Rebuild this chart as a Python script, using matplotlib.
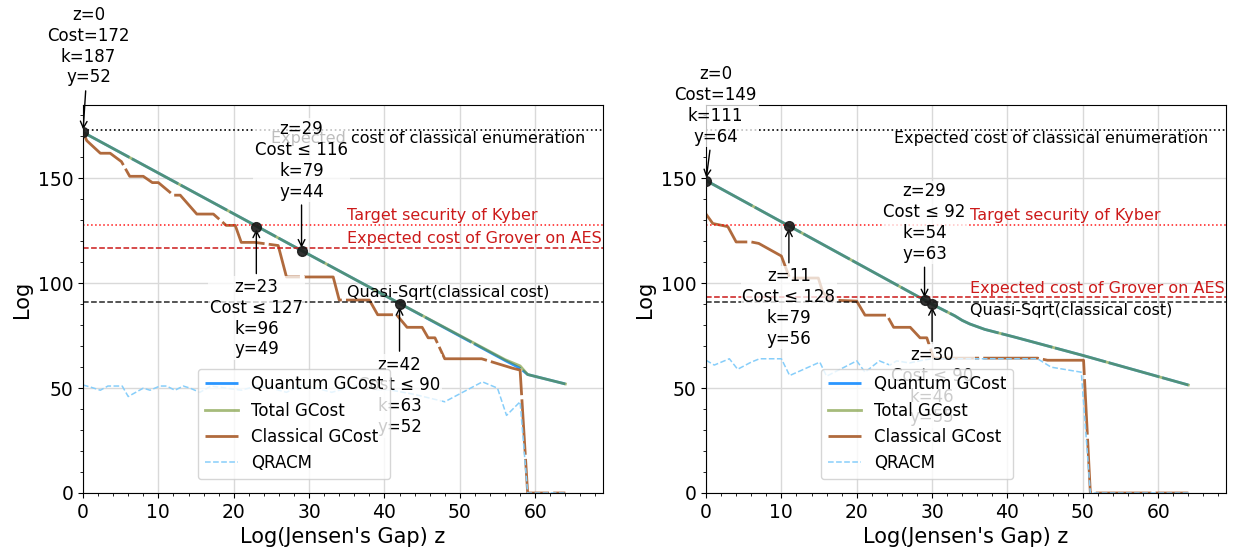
import matplotlib.pyplot as plt
from matplotlib.ticker import MultipleLocator

# ---- left panel data ----
l_q_z = [0, 23, 29, 42, 56, 58, 59, 64]
l_q_c = [172, 127.3, 115.6, 90.4, 63.2, 59.5, 56.5, 52]
l_t_z = [0, 23, 29, 42, 56, 58, 59, 64]
l_t_c = [172, 127.3, 115.6, 90.4, 63.6, 60.6, 56.5, 52]
l_cl_z = [0, 0.5, 2.3, 3.6, 5.1, 6.2, 8, 9.2, 10, 12, 12.9, 15.1, 17.3, 19, 20.2, 21, 22.8,
          25.9, 27, 33.2, 34, 38, 39.1, 41.6, 43, 45, 45.8, 46.7, 48, 52.9, 57, 58, 59, 64]
l_cl_c = [172, 168, 162, 162, 158, 151, 151, 148, 148, 142, 142, 133, 133, 127.6, 127.6, 119.5, 119.5,
          118, 103, 103, 92, 92, 85, 85, 79, 79, 74, 74, 64, 64, 59.5, 58.6, 0, 0]
l_qr_z = [0, 1, 2.3, 3.3, 5.2, 6, 8, 8.9, 10.2, 11.1, 12.2, 13.3, 14.2, 15.5, 17, 19, 21, 23, 25,
          27, 29, 31, 33, 35, 37, 39, 41, 44, 48, 53, 55, 56.2, 58, 59, 64]
l_qr_c = [51.5, 50.5, 49, 51, 51, 46, 50, 49, 51, 51, 49, 51, 50, 48, 51, 50, 49, 51, 50,
          48, 51.5, 50, 48, 50, 52, 49, 49, 47, 43.5, 53, 50, 37, 43.5, 0, 0]
l_lines = {"enum": 173, "kyber": 128, "grover": 117, "sqrt": 91}
l_notes = [(0, 172, "z=0\nCost=172\nk=187\ny=52"),
           (23, 127, "z=23\nCost ≤ 127\nk=96\ny=49"),
           (29, 115.6, "z=29\nCost ≤ 116\nk=79\ny=44"),
           (42, 90, "z=42\nCost ≤ 90\nk=63\ny=52")]

# ---- right panel data ----
r_q_z = [0, 30, 33, 34, 35, 37, 41, 50, 64]
r_q_c = [149, 90, 84.5, 82.3, 80.6, 78, 74.3, 65.6, 51.5]
r_t_z = r_q_z
r_t_c = r_q_c
r_cl_z = [0, 0.9, 2.9, 4, 6, 7, 10, 11.1, 14.9, 15.5, 16.5, 20, 21.1, 24, 24.9, 27.1, 28.4, 29.3,
          30.2, 44, 45.3, 50.1, 51, 64]
r_cl_c = [133, 128.5, 127, 119.7, 119.7, 119, 113, 102.5, 102.5, 95.7, 92, 91.5, 84.8, 84.8, 79, 79, 74, 74,
          64.3, 64.3, 63.3, 63.3, 0, 0]
r_qr_z = [0, 1.1, 3.1, 4.2, 6, 7.1, 10, 11.1, 15.1, 16, 20, 21.1, 23, 24.4, 25.3, 27, 29, 30,
          44, 45.8, 49.8, 51, 64]
r_qr_c = [63.3, 61, 64, 59, 62.4, 64, 64, 56, 62.4, 55.7, 63, 57.6, 63, 61, 63, 62, 63.5, 64,
          64, 60, 57.6, 0, 0]
r_lines = {"enum": 173, "kyber": 128, "grover": 93.3, "sqrt": 91}
r_notes = [(0, 149, "z=0\nCost=149\nk=111\ny=64"),
           (11, 127.5, "z=11\nCost ≤ 128\nk=79\ny=56"),
           (29, 91.9, "z=29\nCost ≤ 92\nk=54\ny=63"),
           (30, 90, "z=30\nCost ≤ 90\nk=46\ny=55")]

# offsets (points) for annotation texts
l_off = [(4, 33, 'bottom'), (0, -37, 'top'), (0, 36, 'bottom'), (0, -37, 'top')]
r_off = [(7, 25, 'bottom'), (0, -30, 'top'), (0, 27, 'bottom'), (0, -30, 'top')]
sqrt_va = ['bottom', 'top']

RED = '#cc1a1a'

fig = plt.figure(figsize=(12.37, 5.56), dpi=100)
ax1 = fig.add_axes([83 / 1237, 63 / 556, 520 / 1237, 388 / 556])
ax2 = fig.add_axes([706 / 1237, 63 / 556, 520 / 1237, 388 / 556])

panels = [
    (ax1, l_q_z, l_q_c, l_t_z, l_t_c, l_cl_z, l_cl_c, l_qr_z, l_qr_c, l_lines, l_notes, l_off),
    (ax2, r_q_z, r_q_c, r_t_z, r_t_c, r_cl_z, r_cl_c, r_qr_z, r_qr_c, r_lines, r_notes, r_off),
]

for i, (ax, qz, qc, tz, tc, cz, cc, rz, rc, hl, notes, offs) in enumerate(panels):
    ax.plot(qz, qc, color='#1e90ff', lw=2, label='Quantum GCost', dashes=(19, 1), alpha=0.95)
    ax.plot(tz, tc, color='olivedrab', lw=2, label='Total GCost', alpha=0.6)
    ax.plot(cz, cc, color='#a85a28', lw=2, label='Classical GCost', dashes=(20, 1.5), alpha=0.9)
    ax.plot(rz, rc, color='#87cefa', lw=1.1, ls='--', label='QRACM')

    ax.axhline(hl["enum"], color='black', ls=':', lw=1.2)
    ax.axhline(hl["kyber"], color='red', ls=':', lw=1.1, alpha=0.9)
    ax.axhline(hl["grover"], color=RED, ls='--', lw=1.1)
    ax.axhline(hl["sqrt"], color='black', ls='--', lw=1.1, alpha=0.85)
    ax.text(25, hl["enum"] - 0.5, "Expected cost of classical enumeration", fontsize=11.5, va='top')
    ax.text(35, hl["kyber"] + 0.8, "Target security of Kyber", fontsize=11.5, va='bottom', color=RED)
    ax.text(35, hl["grover"] + 0.8, "Expected cost of Grover on AES", fontsize=11.5, va='bottom', color=RED)
    ax.text(35, hl["sqrt"] + (0.8 if sqrt_va[i] == 'bottom' else -0.5), "Quasi-Sqrt(classical cost)",
            fontsize=11.5, va=sqrt_va[i])

    for (z, c, txt), (dx, dy, va) in zip(notes, offs):
        ax.plot(z, c, 'o', color='#1a1a1a', ms=7, alpha=0.9, zorder=5)
        ax.annotate(txt, xy=(z, c), xytext=(dx, dy), textcoords='offset points',
                    ha='center', va=va, fontsize=12, annotation_clip=False,
                    bbox=dict(boxstyle='square,pad=0.1', fc='white', ec='none', alpha=0.75),
                    arrowprops=dict(arrowstyle='->', color='black', lw=1, shrinkA=2, shrinkB=2))

    ax.set_xlim(0, 69)
    ax.set_ylim(0, 185)
    ax.xaxis.set_major_locator(MultipleLocator(10))
    ax.xaxis.set_minor_locator(MultipleLocator(2))
    ax.yaxis.set_major_locator(MultipleLocator(50))
    ax.yaxis.set_minor_locator(MultipleLocator(10))
    ax.grid(True, which='major', color='#d9d9d9', lw=1)
    ax.tick_params(labelsize=13.5)
    ax.set_xlabel("Log(Jensen's Gap) z", fontsize=15)
    ax.set_ylabel("Log", fontsize=15)
    h, lab = ax.get_legend_handles_labels()
    ax.legend(h, lab, fontsize=12, framealpha=0.8,
              loc='lower left', bbox_to_anchor=(0.205, 0.015))

fig.savefig('out.png', dpi=100)
